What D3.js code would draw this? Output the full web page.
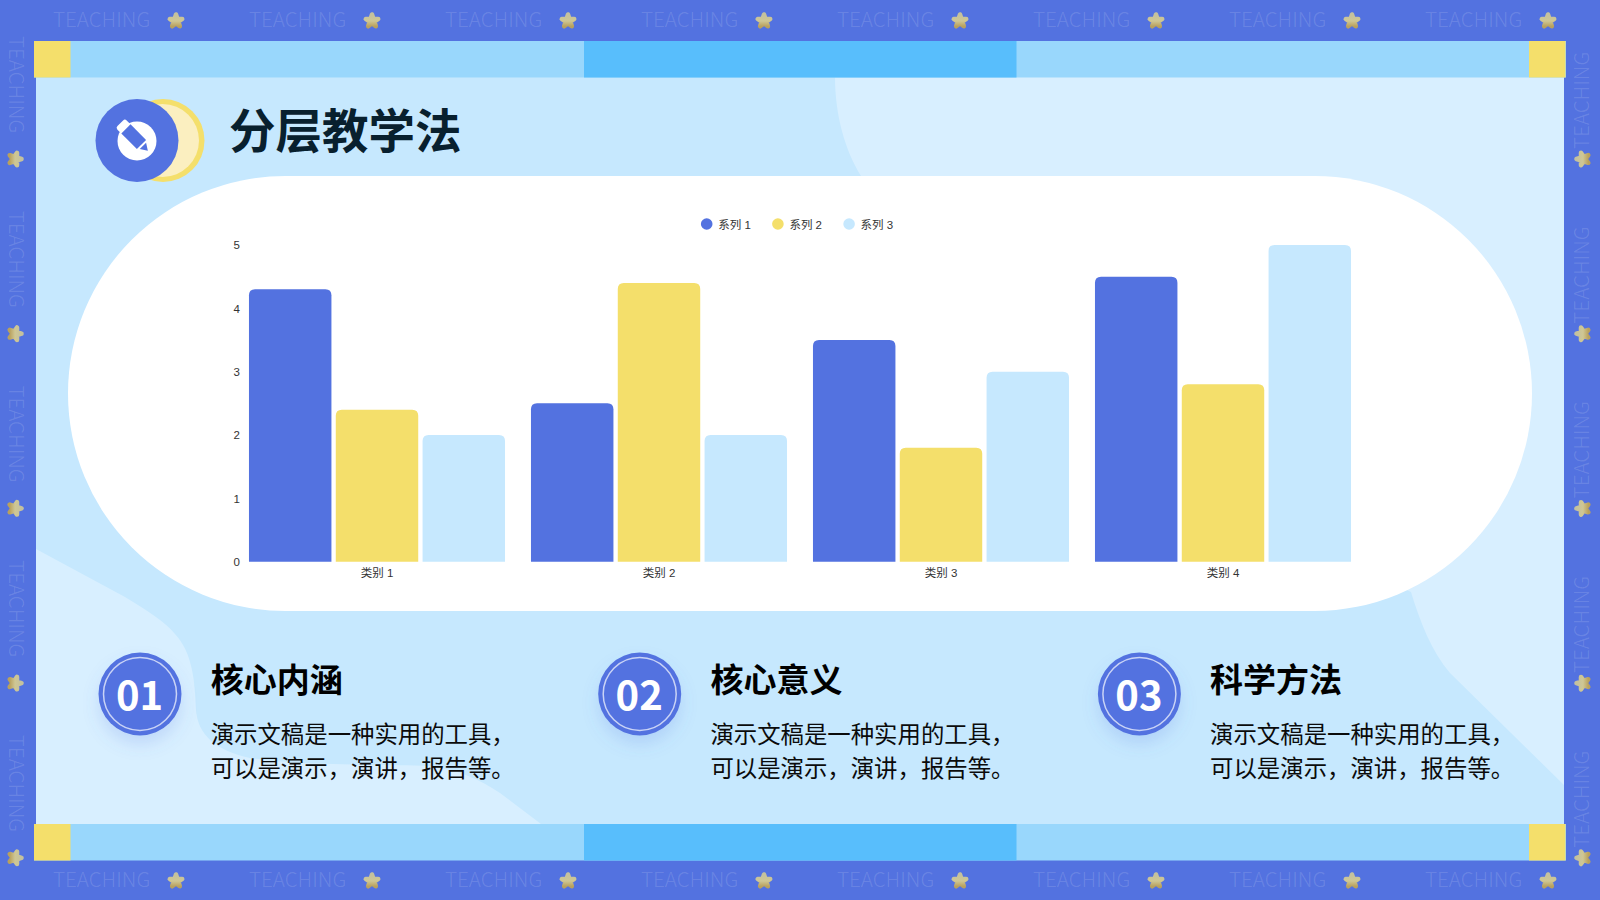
<!DOCTYPE html>
<html>
<head>
<meta charset="utf-8">
<script src="https://cdn.jsdelivr.net/npm/d3@7"></script>
<style>
  html, body { margin: 0; padding: 0; background: #5372E0; overflow: hidden; }
  svg { display: block; font-family: "Noto Sans CJK SC", "Noto Sans", sans-serif; }
  .axis text, .legend text { font-family: "Liberation Sans", "Noto Sans CJK SC", sans-serif; fill: #333; }
</style>
</head>
<body>
<div id="chart"></div>
<script>
var categories = ["类别 1", "类别 2", "类别 3", "类别 4"];
var seriesNames = ["系列 1", "系列 2", "系列 3"];
var series1 = [4.3, 2.5, 3.5, 4.5];
var series2 = [2.4, 4.4, 1.8, 2.8];
var series3 = [2, 2, 3, 5];
var yTicks = [0, 1, 2, 3, 4, 5];
var cardNumbers = ["01", "02", "03"];
var cardTitles = ["核心内涵", "核心意义", "科学方法"];
var cardLine1 = "演示文稿是一种实用的工具，";
var cardLine2 = "可以是演示，演讲，报告等。";
var title = "分层教学法";
var watermark = "TEACHING";

var seriesValues = [series1, series2, series3];
var blue = "#5372E0", yellow = "#F4DF6B", pale = "#C6E8FE", lighter = "#D8EFFF";
var colors = d3.scaleOrdinal().domain(seriesNames).range([blue, yellow, pale]);

var svg = d3.select("#chart").append("svg")
    .attr("width", 1600).attr("height", 900).attr("viewBox", "0 0 1600 900");
var defs = svg.append("defs");

var starGrad = defs.append("linearGradient").attr("id", "starGrad")
    .attr("x1", 0).attr("y1", 0).attr("x2", 0).attr("y2", 1);
starGrad.append("stop").attr("offset", "0%").attr("stop-color", "#C4C19E");
starGrad.append("stop").attr("offset", "55%").attr("stop-color", "#CFC794");
starGrad.append("stop").attr("offset", "100%").attr("stop-color", "#B9A15E");

var shadow = defs.append("filter").attr("id", "soft")
    .attr("x", "-40%").attr("y", "-40%").attr("width", "180%").attr("height", "190%");
shadow.append("feDropShadow").attr("dx", 0).attr("dy", 9).attr("stdDeviation", 8)
    .attr("flood-color", "#5372E0").attr("flood-opacity", 0.18);

/* page background */
svg.append("rect").attr("width", 1600).attr("height", 900).attr("fill", blue);
svg.append("rect").attr("x", 36).attr("y", 60).attr("width", 1528).attr("height", 780).attr("fill", pale);

/* light blobs behind the white panel */
svg.append("path").attr("fill", lighter)
    .attr("d", "M835,77 C835,115 845,150 861,176 L1000,400 L1411,592 C1420,622 1432,652 1450,673 L1564,785 L1564,77 Z");
svg.append("path").attr("fill", lighter)
    .attr("d", "M36,549 L125,597 C150,612 165,622 175,634 C192,652 195,680 196,710 C198,735 215,750 250,758 C300,766 380,764 430,766 C460,770 480,780 500,793 L541,824 L36,824 Z");

/* top and bottom stripes */
[41, 824].forEach(function (y) {
    svg.append("rect").attr("x", 34).attr("y", y).attr("width", 1532).attr("height", 36.5).attr("fill", "#99D7FC");
    svg.append("rect").attr("x", 584).attr("y", y).attr("width", 432.5).attr("height", 36.5).attr("fill", "#58BEFC");
    svg.append("rect").attr("x", 34).attr("y", y).attr("width", 36.5).attr("height", 36.5).attr("fill", yellow);
    svg.append("rect").attr("x", 1529).attr("y", y).attr("width", 36.5).attr("height", 36.5).attr("fill", yellow);
});

/* watermark rows */
var star = d3.symbol().type(d3.symbolStar).size(48);
function addWord(g) {
    g.append("text").text(watermark)
        .attr("font-size", 20.6).attr("font-weight", 300)
        .attr("fill", "#fff").attr("fill-opacity", 0.14)
        .attr("dy", "0.35em");
}
function addStar(g, offset) {
    g.append("path").attr("d", star()).attr("transform", "translate(" + offset + ",1)")
        .attr("fill", "url(#starGrad)").attr("stroke", "url(#starGrad)")
        .attr("stroke-width", 4.5).attr("stroke-linejoin", "round");
}
[20, 880].forEach(function (y) {
    var row = svg.append("g").selectAll("g").data(d3.range(8)).enter().append("g")
        .attr("transform", function (d) { return "translate(" + (53 + 196 * d) + "," + y + ")"; });
    addWord(row);
    addStar(row, 123);
});
var leftCol = svg.append("g").selectAll("g").data(d3.range(5)).enter().append("g")
    .attr("transform", function (d) { return "translate(16," + (36 + 174.7 * d) + ") rotate(90)"; });
addWord(leftCol);
addStar(leftCol, 123);
var rightCol = svg.append("g").selectAll("g").data(d3.range(5)).enter().append("g")
    .attr("transform", function (d) { return "translate(1582," + (149 + 174.7 * d) + ") rotate(-90)"; });
addWord(rightCol);
addStar(rightCol, -10);

/* header badge */
svg.append("circle").attr("cx", 163).attr("cy", 140.5).attr("r", 41.5).attr("fill", yellow);
svg.append("circle").attr("cx", 162.5).attr("cy", 140.5).attr("r", 36.5).attr("fill", "#FBEFC0");
svg.append("circle").attr("cx", 137).attr("cy", 140.5).attr("r", 41.5).attr("fill", blue);
svg.append("circle").attr("cx", 137).attr("cy", 141).attr("r", 19.5).attr("fill", "#fff");
var pencil = svg.append("g").attr("transform", "translate(133,136) rotate(45)");
pencil.append("rect").attr("x", -18).attr("y", -6.5).attr("width", 9).attr("height", 13).attr("rx", 2.5).attr("fill", "#fff");
pencil.append("rect").attr("x", -10).attr("y", -6.5).attr("width", 22).attr("height", 13).attr("fill", blue);
pencil.append("path").attr("d", "M14,-4.5 L21,0 L14,4.5 Z").attr("fill", blue);

svg.append("text").text(title)
    .attr("x", 229).attr("y", 132).attr("dy", "0.35em")
    .attr("font-size", 46.5).attr("font-weight", 700).attr("fill", "#08202E");

/* white chart panel */
svg.append("rect").attr("x", 68).attr("y", 176).attr("width", 1464).attr("height", 435)
    .attr("rx", 217.5).attr("fill", "#fff");

/* chart */
var x0 = d3.scaleBand().domain(categories).range([236, 1364]).paddingInner(0.092).paddingOuter(0.046);
var x1 = d3.scaleBand().domain(seriesNames).range([0, x0.bandwidth()]).paddingInner(0.05);
var y = d3.scaleLinear().domain([0, 5]).range([561.7, 245]);

function barPath(x, w, v) {
    var r = 6, top = y(v), bottom = y(0);
    return "M" + x + "," + bottom + "V" + (top + r) + "Q" + x + "," + top + " " + (x + r) + "," + top +
        "H" + (x + w - r) + "Q" + (x + w) + "," + top + " " + (x + w) + "," + (top + r) + "V" + bottom + "Z";
}

var groups = svg.append("g").selectAll("g").data(seriesNames).enter().append("g")
    .attr("fill", function (d) { return colors(d); });
groups.selectAll("path")
    .data(function (d, i) {
        return categories.map(function (c, j) { return { cat: c, name: d, value: seriesValues[i][j] }; });
    })
    .enter().append("path")
    .attr("d", function (d) { return barPath(x0(d.cat) + x1(d.name), x1.bandwidth(), d.value); });

var yAxis = svg.append("g").attr("class", "axis")
    .attr("transform", "translate(245,0)")
    .call(d3.axisLeft(y).tickValues(yTicks).tickSize(0).tickPadding(5).tickFormat(d3.format("d")));
var xAxis = svg.append("g").attr("class", "axis")
    .attr("transform", "translate(0,561.7)")
    .call(d3.axisBottom(x0).tickSize(0).tickPadding(7));
svg.selectAll(".axis .domain").remove();
svg.selectAll(".axis text").attr("font-size", 11.5);

/* legend */
var legend = svg.append("g").attr("class", "legend").selectAll("g").data(seriesNames).enter().append("g")
    .attr("transform", function (d, i) { return "translate(" + (706.7 + 71.2 * i) + ",224)"; });
legend.append("circle").attr("r", 5.8).attr("fill", function (d) { return colors(d); });
legend.append("text").text(function (d) { return d; })
    .attr("x", 11.5).attr("y", 0.5).attr("dy", "0.35em").attr("font-size", 11.5);

/* bottom cards */
var cards = svg.append("g").selectAll("g").data(cardNumbers).enter().append("g")
    .attr("transform", function (d, i) { return "translate(" + (140 + 499.7 * i) + ",694)"; });
cards.append("circle").attr("r", 41.5).attr("fill", blue).attr("filter", "url(#soft)");
cards.append("circle").attr("r", 36.5).attr("fill", "none").attr("stroke", "#C9D3F6").attr("stroke-width", 1.5);
cards.append("text").text(function (d) { return d; })
    .attr("text-anchor", "middle").attr("x", -0.5).attr("y", 2).attr("dy", "0.36em")
    .attr("font-size", 40).attr("font-weight", 700).attr("fill", "#fff");
cards.append("text").text(function (d, i) { return cardTitles[i]; })
    .attr("x", 70.7).attr("y", -14).attr("dy", "0.35em")
    .attr("font-size", 33).attr("font-weight", 700).attr("fill", "#000");
cards.append("text").text(cardLine1)
    .attr("x", 70.7).attr("y", 41).attr("dy", "0.35em")
    .attr("font-size", 23.4).attr("fill", "#0b0b0b");
cards.append("text").text(cardLine2)
    .attr("x", 70.7).attr("y", 74.5).attr("dy", "0.35em")
    .attr("font-size", 23.4).attr("fill", "#0b0b0b");
</script>
</body>
</html>
